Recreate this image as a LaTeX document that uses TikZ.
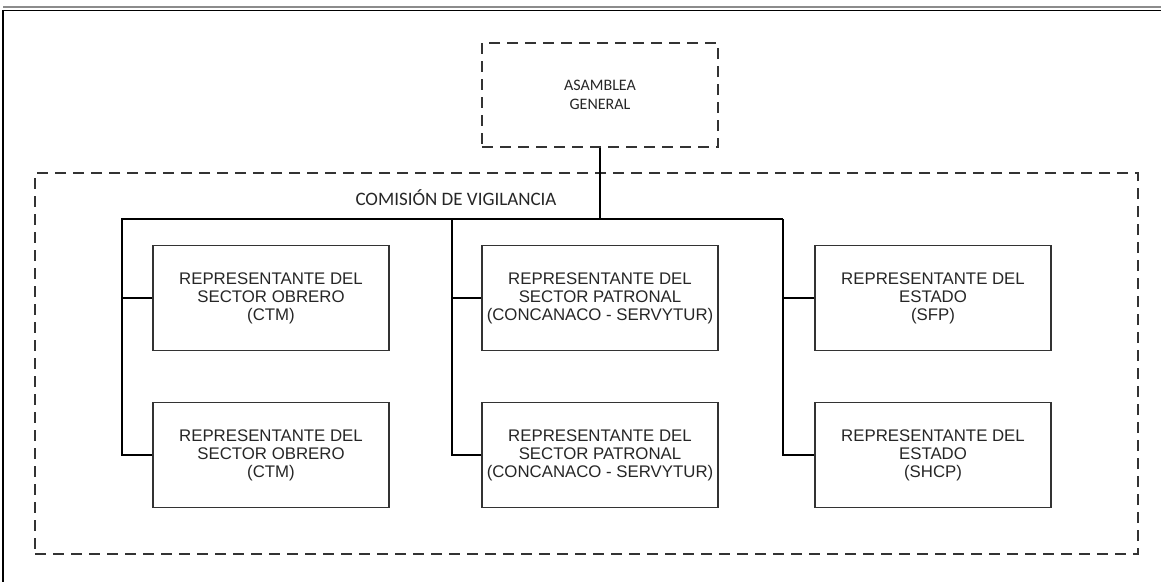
\documentclass[tikz,border=0pt]{standalone}
\usepackage{fontspec}
\setmainfont{Liberation Sans}
\newfontfamily\calfont{Carlito}
\begin{document}
\begin{tikzpicture}[x=1pt,y=-1pt,
  repbox/.style={draw=black!80,line width=1.4pt,minimum width=236pt,minimum height=105pt,inner sep=0pt,
    align=center,text=black!85,font=\fontsize{16.8}{18}\selectfont},
  dashbox/.style={draw=black!80,line width=1.4pt,dash pattern=on 11pt off 7pt,inner sep=0pt},
  conn/.style={draw=black,line width=2pt},
  lbl/.style={inner sep=0pt,text=black!85}]
\useasboundingbox (0,0) rectangle (1161,582);
% page frame
\draw[black!45,line width=2pt] (3,7) -- (1161,7);
\draw[black,line width=1pt] (3,10) -- (1161,10);
\draw[black,line width=1.4pt] (3,10) -- (3,582);
% containers
\node[dashbox,minimum width=236pt,minimum height=104pt,align=center,text=black!85,
  font=\calfont\fontsize{16}{19}\selectfont] (ag) at (600,95) {ASAMBLEA\\GENERAL};
\node[dashbox,minimum width=1103pt,minimum height=381pt] (com) at (586.5,363.5) {};
\node[lbl,font=\calfont\fontsize{19}{20}\selectfont] (coml) at (456,198) {COMISIÓN DE VIGILANCIA};
% boxes
\node[repbox] (o1) at (271,298) {REPRESENTANTE DEL\\SECTOR OBRERO\\(CTM)};
\node[repbox] (o2) at (271,455) {REPRESENTANTE DEL\\SECTOR OBRERO\\(CTM)};
\node[repbox] (p1) at (600,298) {REPRESENTANTE DEL\\SECTOR PATRONAL\\(CONCANACO - SERVYTUR)};
\node[repbox] (p2) at (600,455) {REPRESENTANTE DEL\\SECTOR PATRONAL\\(CONCANACO - SERVYTUR)};
\node[repbox] (e1) at (933,298) {REPRESENTANTE DEL\\ESTADO\\(SFP)};
\node[repbox] (e2) at (933,455) {REPRESENTANTE DEL\\ESTADO\\(SHCP)};
% bus coordinates
\coordinate (bl) at (122,219);
\coordinate (bm) at (452,219);
\coordinate (br) at (783,219);
% connectors
\draw[conn] (ag.south) -- (ag.south |- bl);
\draw[conn] (o2.west) -| (bl) -- (br);
\draw[conn,line width=2.6pt] (br) |- (e2.west);
\draw[conn] (o1.west) -- (o1.west -| bl);
\draw[conn] (p2.west) -| (bm);
\draw[conn] (p1.west) -- (p1.west -| bm);
\draw[conn] (e1.west) -- (e1.west -| br);
\end{tikzpicture}
\end{document}
